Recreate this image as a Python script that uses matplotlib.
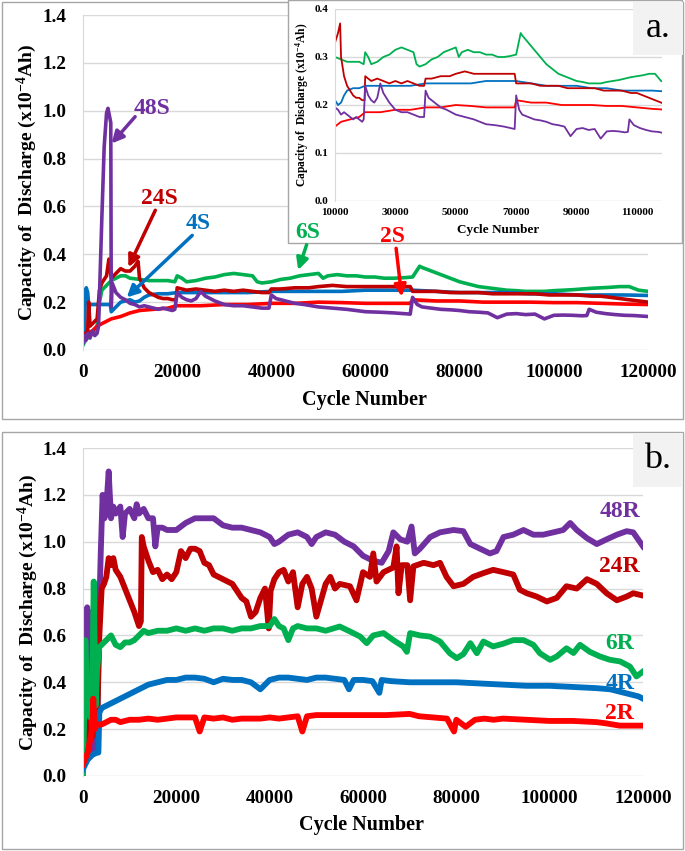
import matplotlib
matplotlib.use('Agg')
import matplotlib.pyplot as plt
from matplotlib.patches import Rectangle

plt.rcParams['font.family'] = ['Liberation Serif', 'DejaVu Serif']
plt.rcParams['font.weight'] = 'bold'
plt.rcParams['mathtext.fontset'] = 'custom'
plt.rcParams['mathtext.rm'] = 'Liberation Serif:bold'
plt.rcParams['mathtext.bf'] = 'Liberation Serif:bold'
plt.rcParams['mathtext.it'] = 'Liberation Serif:bold'

# ---------------- colours ----------------
C48 = '#7030A0'
C24 = '#C00000'
C6 = '#00B050'
C4 = '#0070C0'
C2 = '#FF0000'

# ---------------- panel a data (S series) ----------------
s48_x = [0, 300, 600, 1000, 1500, 2000, 2500, 3000, 3300, 4000, 4500, 5000, 5300, 5600, 5900, 6000, 6200, 6600, 7000, 8000,
         9000, 10000, 11000, 12000, 13000, 14000, 15000, 16000, 17000, 18000, 19000, 19500, 20000, 21000, 22000, 23000, 24000,
         25000, 26000, 28000, 30000, 32000, 34000, 36000, 38000, 39500, 40000, 41000, 43000, 45000, 47000, 50000, 53000, 56000,
         60000, 63000, 66000, 69500, 70000, 71000, 72000, 74000, 76000, 78000, 80000, 82000, 84000, 86000, 88000, 90000, 92000,
         94000, 96000, 98000, 100000, 102000, 104000, 106000, 107000, 107500, 109000, 111000, 113000, 115000, 117000, 120000]
s48_y = [0.03, 0.06, 0.04, 0.07, 0.05, 0.08, 0.06, 0.07, 0.10, 0.55, 0.85, 0.99, 1.01, 0.98, 0.95, 0.18, 0.28, 0.26, 0.24, 0.22,
         0.21, 0.195, 0.19, 0.18, 0.185, 0.18, 0.175, 0.17, 0.175, 0.17, 0.165, 0.17, 0.24, 0.22, 0.21, 0.205, 0.215,
         0.245, 0.225, 0.205, 0.19, 0.185, 0.185, 0.18, 0.175, 0.175, 0.23, 0.215, 0.205, 0.195, 0.19, 0.18, 0.175, 0.17,
         0.16, 0.158, 0.155, 0.15, 0.22, 0.19, 0.18, 0.175, 0.17, 0.168, 0.165, 0.16, 0.158, 0.155, 0.135, 0.15, 0.152,
         0.148, 0.15, 0.13, 0.145, 0.146, 0.145, 0.143, 0.144, 0.17, 0.158, 0.152, 0.148, 0.145, 0.144, 0.14]

s24_x = [0, 500, 1000, 1200, 1500, 2000, 2500, 3000, 3500, 4000, 5000, 5500, 6000, 7000, 8000, 9000, 10000, 11000, 11700, 12000,
         13000, 14000, 15000, 16000, 17000, 18000, 19000, 19800, 20000, 21000, 22000, 24000, 26000, 28000, 30000, 32000, 34000,
         36000, 38000, 39500, 40000, 42000, 45000, 48000, 50000, 53000, 56000, 60000, 63000, 66000, 69500, 70000, 72000, 75000,
         78000, 81000, 84000, 87000, 90000, 93000, 96000, 99000, 102000, 105000, 108000, 110000, 112000, 114000, 116000, 118000,
         120000]
s24_y = [0.05, 0.07, 0.08, 0.20, 0.10, 0.11, 0.12, 0.13, 0.25, 0.28, 0.31, 0.38, 0.30, 0.32, 0.34, 0.33, 0.33, 0.35, 0.37, 0.30,
         0.26, 0.24, 0.23, 0.22, 0.215, 0.215, 0.21, 0.21, 0.26, 0.255, 0.25, 0.255, 0.25, 0.245, 0.25, 0.245, 0.25,
         0.245, 0.24, 0.24, 0.255, 0.255, 0.26, 0.26, 0.265, 0.27, 0.265, 0.265, 0.265, 0.265, 0.265, 0.245, 0.245, 0.245,
         0.24, 0.24, 0.24, 0.235, 0.235, 0.235, 0.235, 0.23, 0.23, 0.23, 0.225, 0.225, 0.22, 0.215, 0.21, 0.205,
         0.20]

s6_x = [0, 500, 1000, 2000, 2500, 3000, 3500, 4000, 5000, 6000, 7000, 8000, 9000, 10000, 12000, 14000, 16000, 18000, 19500, 20000,
        21000, 22000, 24000, 26000, 28000, 30000, 32000, 34000, 36000, 37000, 38000, 40000, 42000, 44000, 46000, 48000, 50000,
        51000, 52000, 54000, 56000, 58000, 60000, 62000, 64000, 66000, 68000, 70000, 71500, 72000, 74000, 76000, 78000, 80000,
        82000, 84000, 86000, 88000, 90000, 92000, 94000, 96000, 98000, 100000, 102000, 104000, 106000, 108000, 110000, 112000,
        114000, 116000, 118000, 120000]
s6_y = [0.02, 0.04, 0.05, 0.07, 0.08, 0.10, 0.20, 0.25, 0.27, 0.29, 0.30, 0.31, 0.31, 0.30, 0.295, 0.29, 0.29, 0.29, 0.285, 0.31,
        0.30, 0.285, 0.29, 0.30, 0.305, 0.315, 0.32, 0.315, 0.31, 0.285, 0.28, 0.285, 0.295, 0.30, 0.31, 0.315, 0.32,
        0.30, 0.31, 0.315, 0.31, 0.31, 0.305, 0.305, 0.30, 0.30, 0.302, 0.305, 0.35, 0.345, 0.33, 0.315, 0.30, 0.285,
        0.275, 0.265, 0.26, 0.255, 0.25, 0.248, 0.245, 0.245, 0.245, 0.248, 0.25, 0.252, 0.255, 0.258, 0.26, 0.262,
        0.265, 0.265, 0.25, 0.245]

s4_x = [0, 300, 500, 700, 1000, 1200, 2000, 3000, 4000, 5000, 5800, 6000, 7000, 8000, 10000, 11000, 12000, 13000, 14000, 16000,
        18000, 20000, 25000, 30000, 35000, 40000, 45000, 50000, 55000, 60000, 65000, 70000, 75000, 80000, 85000, 90000, 95000,
        100000, 105000, 110000, 115000, 120000]
s4_y = [0.03, 0.05, 0.25, 0.26, 0.24, 0.19, 0.19, 0.19, 0.19, 0.19, 0.19, 0.16, 0.18, 0.20, 0.21, 0.20, 0.205, 0.22, 0.23, 0.235,
        0.235, 0.24, 0.24, 0.24, 0.24, 0.245, 0.245, 0.245, 0.245, 0.25, 0.25, 0.25, 0.245, 0.24, 0.24, 0.24, 0.235,
        0.235, 0.23, 0.23, 0.23, 0.228]

s2_x = [0, 1000, 2000, 3000, 4000, 5000, 6000, 8000, 10000, 12000, 15000, 18000, 20000, 25000, 30000, 35000, 40000, 45000, 50000,
        55000, 60000, 65000, 69500, 70000, 72000, 75000, 80000, 85000, 90000, 95000, 100000, 105000, 110000, 115000, 120000]
s2_y = [0.04, 0.07, 0.08, 0.10, 0.11, 0.12, 0.13, 0.14, 0.155, 0.165, 0.17, 0.175, 0.185, 0.185, 0.19, 0.19, 0.195, 0.195, 0.20,
        0.198, 0.195, 0.195, 0.195, 0.21, 0.208, 0.205, 0.205, 0.20, 0.20, 0.20, 0.198, 0.198, 0.195, 0.192, 0.19]

# ---------------- panel b data (R series) ----------------
r48_x = [0, 300, 600, 900, 1100, 1400, 1800, 2200, 2600, 3000, 3400, 3800, 4200, 4600, 5000, 5500, 6000, 6500, 7000, 8000,
         8500, 9000, 10000, 11000, 11500, 12000, 13000, 14000, 15000, 15500, 16000, 17000, 18000, 20000, 22000, 24000, 26000,
         28000, 30000, 32000, 34000, 36000, 38000, 40000, 41000, 42000, 44000, 46000, 48000, 49000, 50000, 52000, 54000, 56000,
         58000, 60000, 62000, 64000, 65500, 66500, 68000, 69500, 70400, 71100, 72200, 74400, 76500, 79400, 81500, 83000, 85100,
         87200, 88600, 90100, 92200, 94400, 96500, 98600, 100800, 102900, 104400, 105800, 108000, 110100, 112200, 114400,
         116500, 117900, 120000]
r48_y = [0.05, 0.08, 0.30, 0.72, 0.10, 0.70, 0.15, 0.10, 0.15, 0.12, 0.65, 0.95, 1.20, 1.10, 1.15, 1.30, 1.10, 1.15, 1.12, 1.15,
         1.02, 1.12, 1.14, 1.10, 1.16, 1.12, 1.14, 1.10, 1.10, 0.98, 1.06, 1.06, 1.05, 1.05, 1.08, 1.10, 1.10,
         1.10, 1.07, 1.06, 1.06, 1.05, 1.04, 1.02, 0.99, 1.00, 1.03, 1.04, 1.02, 0.99, 1.02, 1.04, 1.03, 1.00,
         0.98, 0.94, 0.92, 0.91, 0.96, 1.04, 1.01, 1.00, 1.065, 0.95, 0.97, 1.02, 1.04, 1.05, 1.045, 0.99, 0.97,
         0.95, 0.96, 1.02, 1.03, 1.05, 1.03, 1.03, 1.04, 1.05, 1.08, 1.05, 1.015, 0.99, 1.01, 1.03,
         1.045, 1.04, 0.98]

r24_x = [0, 300, 500, 800, 1200, 1600, 2000, 2500, 3000, 3500, 4000, 4500, 5000, 5500, 6000, 6500, 7000, 8000, 9000, 10000,
         11000, 12000, 12400, 12600, 13000, 14000, 15000, 16000, 17000, 18000, 19000, 20000, 21000, 22000, 23000, 24000, 25000,
         26000, 27000, 28000, 30000, 32000, 34000, 35000, 36000, 37000, 38000, 39000, 39800, 40200, 41000, 42000, 43000, 44000,
         45000, 46000, 47000, 48000, 49000, 50000, 51000, 52000, 53000, 54000, 55000, 57200, 58600, 60000, 61500, 62200, 62900,
         64400, 66500, 67200, 67600, 68300, 69500, 70100, 70800, 73000, 75100, 76500, 77900, 79400, 81500, 83600, 85800, 87900,
         90100, 92200, 93600, 95100, 97200, 99400, 101500, 103600, 105800, 108000, 110100, 112200, 114400, 116500, 117900,
         120000]
r24_y = [0.05, 0.10, 0.37, 0.15, 0.12, 0.20, 0.17, 0.34, 0.20, 0.60, 0.80, 0.82, 0.85, 0.93, 0.90, 0.93, 0.88, 0.85, 0.80, 0.75,
         0.70, 0.64, 0.66, 1.02, 0.98, 0.92, 0.87, 0.88, 0.84, 0.86, 0.84, 0.87, 0.96, 0.93, 0.97, 0.97, 0.96,
         0.91, 0.90, 0.86, 0.84, 0.82, 0.76, 0.745, 0.68, 0.70, 0.76, 0.80, 0.63, 0.79, 0.84, 0.87, 0.88, 0.83,
         0.87, 0.72, 0.82, 0.85, 0.80, 0.68, 0.75, 0.82, 0.85, 0.80, 0.82, 0.81, 0.75, 0.87, 0.85, 0.95, 0.83,
         0.87, 0.89, 0.98, 0.78, 0.90, 0.90, 0.75, 0.895, 0.91, 0.90, 0.91, 0.85, 0.81, 0.82, 0.85, 0.866, 0.88,
         0.87, 0.86, 0.795, 0.78, 0.766, 0.745, 0.76, 0.81, 0.80, 0.84, 0.82, 0.78, 0.75, 0.766, 0.78,
         0.77]

r6_x = [0, 300, 500, 800, 1200, 1600, 2000, 2300, 2700, 3000, 3500, 4000, 5000, 6000, 7000, 8000, 9000, 10000, 11000, 12000,
        13000, 14000, 16000, 18000, 20000, 22000, 24000, 26000, 28000, 30000, 32000, 34000, 36000, 38000, 40000, 41000, 42000,
        43000, 44000, 45000, 46000, 48000, 50000, 52000, 55000, 57200, 59400, 60800, 62200, 64400, 66500, 68600, 69400, 70100,
        72200, 74400, 76500, 78600, 80100, 81500, 83000, 84400, 85800, 87900, 90100, 92200, 94400, 96500, 97900, 100100,
        101500, 103600, 105100, 106500, 108600, 110800, 112900, 115100, 117200, 118600, 120000]
r6_y = [0.0, 0.30, 0.58, 0.40, 0.30, 0.25, 0.40, 0.83, 0.30, 0.45, 0.55, 0.56, 0.58, 0.60, 0.56, 0.55, 0.57, 0.57, 0.58, 0.60,
        0.62, 0.61, 0.62, 0.62, 0.63, 0.62, 0.63, 0.62, 0.63, 0.63, 0.62, 0.63, 0.63, 0.64, 0.64, 0.67, 0.64,
        0.63, 0.58, 0.63, 0.64, 0.63, 0.63, 0.62, 0.638, 0.617, 0.595, 0.567, 0.60, 0.61, 0.58, 0.553, 0.53, 0.61,
        0.60, 0.595, 0.574, 0.524, 0.503, 0.52, 0.567, 0.524, 0.574, 0.553, 0.565, 0.58, 0.58, 0.56, 0.524, 0.496,
        0.51, 0.545, 0.525, 0.56, 0.53, 0.51, 0.496, 0.489, 0.467, 0.425, 0.446]

r4_x = [0, 1000, 2000, 3000, 3300, 3500, 4000, 5000, 6000, 7000, 8000, 9000, 10000, 11000, 12000, 13000, 14000, 15000, 16000,
        18000, 20000, 22000, 24000, 26000, 28000, 30000, 32000, 34000, 36000, 38000, 40000, 42000, 44000, 46000, 48000, 50000,
        52000, 54000, 56000, 57000, 58000, 60000, 62000, 63500, 64000, 66000, 70000, 75000, 80000, 85000, 90000, 95000,
        100000, 105000, 110000, 113000, 115000, 117000, 119000, 120000]
r4_y = [0.03, 0.07, 0.09, 0.10, 0.10, 0.27, 0.29, 0.30, 0.31, 0.32, 0.33, 0.34, 0.35, 0.36, 0.37, 0.38, 0.39, 0.395, 0.40,
        0.41, 0.41, 0.42, 0.42, 0.415, 0.40, 0.415, 0.41, 0.41, 0.40, 0.37, 0.41, 0.42, 0.42, 0.415, 0.41, 0.42,
        0.42, 0.415, 0.41, 0.37, 0.41, 0.41, 0.405, 0.355, 0.41, 0.405, 0.40, 0.40, 0.40, 0.395, 0.39, 0.385,
        0.385, 0.38, 0.375, 0.37, 0.36, 0.35, 0.34, 0.33]

r2_x = [0, 1000, 2000, 2200, 2500, 3000, 4000, 5000, 6000, 7000, 8000, 10000, 12000, 14000, 16000, 18000, 20000, 22000, 24000,
        25000, 26000, 28000, 30000, 32000, 34000, 36000, 38000, 40000, 42000, 44000, 46000, 47000, 48000, 50000, 52000, 55000,
        60000, 65000, 70000, 72000, 75000, 78000, 79500, 80000, 82000, 84000, 86000, 88000, 90000, 95000, 100000, 105000,
        110000, 112000, 115000, 120000]
r2_y = [0.05, 0.10, 0.20, 0.33, 0.20, 0.22, 0.22, 0.23, 0.24, 0.24, 0.23, 0.24, 0.24, 0.245, 0.24, 0.245, 0.25, 0.25, 0.25,
        0.19, 0.25, 0.245, 0.25, 0.24, 0.245, 0.245, 0.245, 0.25, 0.245, 0.25, 0.255, 0.19, 0.255, 0.26, 0.26, 0.26,
        0.26, 0.26, 0.265, 0.255, 0.25, 0.245, 0.19, 0.24, 0.21, 0.24, 0.245, 0.24, 0.245, 0.24, 0.235, 0.235,
        0.23, 0.225, 0.215, 0.215]

# ticks / labels
main_xticks = [0, 20000, 40000, 60000, 80000, 100000, 120000]
main_yticks = [0.0, 0.2, 0.4, 0.6, 0.8, 1.0, 1.2, 1.4]
inset_xticks = [10000, 30000, 50000, 70000, 90000, 110000]
inset_yticks = [0.0, 0.1, 0.2, 0.3, 0.4]
ylabel_text = 'Capacity of  Discharge (x10$^{-4}$Ah)'
xlabel_text = 'Cycle Number'

W, H = 685, 851
fig = plt.figure(figsize=(W / 100, H / 100), dpi=100)
fig.patch.set_facecolor('white')


def rect_px(x0, y0, x1, y1):
    return (x0 / W, 1 - y1 / H), (x1 - x0) / W, (y1 - y0) / H


def add_axes_px(x0, y0, x1, y1, **kw):
    return fig.add_axes([x0 / W, 1 - y1 / H, (x1 - x0) / W, (y1 - y0) / H], **kw)


GRID = '#D9D9D9'


def style(ax, fs, ypad, xpad):
    for s in ['top', 'right', 'bottom']:
        ax.spines[s].set_visible(False)
    ax.spines['left'].set_color(GRID)
    ax.yaxis.grid(True, color=GRID, lw=1)
    ax.xaxis.grid(False)
    ax.set_axisbelow(True)
    ax.tick_params(length=0, labelsize=fs)
    ax.tick_params(axis='y', pad=ypad)
    ax.tick_params(axis='x', pad=xpad)
    for lab in ax.get_xticklabels() + ax.get_yticklabels():
        lab.set_fontweight('bold')


def set_labels(ax, fs_y, fs_x, ycoord, xcoord):
    ax.set_ylabel(ylabel_text, fontsize=fs_y, fontweight='bold')
    ax.yaxis.label.set_va('center')
    ax.yaxis.set_label_coords(*ycoord)
    ax.set_xlabel(xlabel_text, fontsize=fs_x, fontweight='bold')
    ax.xaxis.label.set_va('center')
    ax.xaxis.set_label_coords(*xcoord)


# panel borders
for (x0, y0, x1, y1) in [(2, 2, 683, 419), (2, 432, 683, 849)]:
    xy, w, h = rect_px(x0, y0, x1, y1)
    fig.add_artist(Rectangle(xy, w, h, transform=fig.transFigure, fill=False, edgecolor='#A6A6A6', lw=1, zorder=0))

# ---------------- panel a ----------------
axa = add_axes_px(83, 15, 648, 350)
lw_a = 2.6
axa.plot(s6_x, s6_y, color=C6, lw=lw_a)
axa.plot(s2_x, s2_y, color=C2, lw=lw_a)
axa.plot(s4_x, s4_y, color=C4, lw=lw_a)
axa.plot(s24_x, s24_y, color=C24, lw=lw_a)
axa.plot(s48_x, s48_y, color=C48, lw=lw_a)
axa.set_xlim(0, 120000)
axa.set_ylim(0, 1.4)
axa.set_xticks(main_xticks)
axa.set_xticklabels([str(v) for v in main_xticks])
axa.set_yticks(main_yticks)
axa.set_yticklabels([f'{v:.1f}' for v in main_yticks])
style(axa, 13.8, 12, 10)
set_labels(axa, 14, 14.5, (-0.099, 0.5), (0.499, -0.149))

# inset box + inset axes
xy, w, h = rect_px(288, 0, 682, 243)
fig.add_artist(Rectangle(xy, w, h, transform=fig.transFigure, facecolor='white', edgecolor='#A6A6A6', lw=1, zorder=1))
axi = add_axes_px(335, 9, 662, 201, zorder=2)
axi.patch.set_alpha(0)
lw_i = 1.3
axi.plot(s6_x, s6_y, color=C6, lw=lw_i)
axi.plot(s4_x, s4_y, color=C4, lw=lw_i)
axi.plot(s24_x, s24_y, color=C24, lw=lw_i)
axi.plot(s2_x, s2_y, color=C2, lw=lw_i)
axi.plot(s48_x, s48_y, color=C48, lw=lw_i)
axi.set_xlim(10000, 118300)
axi.set_ylim(0, 0.4)
axi.set_xticks(inset_xticks)
axi.set_xticklabels([str(v) for v in inset_xticks])
axi.set_yticks(inset_yticks)
axi.set_yticklabels([f'{v:.1f}' for v in inset_yticks])
style(axi, 8, 5, 5)
set_labels(axi, 8.3, 9.5, (-0.101, 0.5), (0.5, -0.151))

# overlay for series labels + arrows (above the inset box)
ova = add_axes_px(83, 15, 648, 350, zorder=3)
ova.set_xlim(0, 120000)
ova.set_ylim(0, 1.4)
ova.axis('off')
arrow_kw = dict(arrowstyle='-|>,head_length=0.7,head_width=0.35', lw=2.5, shrinkA=0, shrinkB=0)
labels_a = [('48S', C48, (14600, 1.01), (11070, 0.975), (6070, 0.863)),
            ('24S', C24, (16300, 0.633), (15360, 0.584), (9640, 0.346)),
            ('4S', C4, (24500, 0.528), (23200, 0.479), (9290, 0.22)),
            ('6S', C6, (47800, 0.489), (47500, 0.44), (45700, 0.334)),
            ('2S', C2, (65800, 0.473), (66500, 0.425), (67700, 0.223))]
for txt, c, tp, a0, a1 in labels_a:
    ova.text(tp[0], tp[1], txt, color=c, fontsize=17, fontweight='bold', ha='center', va='center')
    ova.annotate('', xy=a1, xytext=a0, arrowprops=dict(color=c, **arrow_kw), annotation_clip=False)

# panel letters
for (x0, y0, x1, y1), letter in [((633, 2, 683, 55), 'a.'), ((633, 433, 683, 487), 'b.')]:
    xy, w, h = rect_px(x0, y0, x1, y1)
    fig.add_artist(Rectangle(xy, w, h, transform=fig.transFigure, facecolor='#F2F2F2', edgecolor='none', zorder=4))
    fig.text((x0 + x1) / 2 / W, 1 - (y0 + y1) / 2 / H, letter, fontsize=26, fontweight='normal',
             ha='center', va='center', zorder=5)

# ---------------- panel b ----------------
axb = add_axes_px(83, 448, 643, 776)
lw_b = 4.2
axb.plot(r48_x, r48_y, color=C48, lw=lw_b)
axb.plot(r24_x, r24_y, color=C24, lw=lw_b)
axb.plot(r6_x, r6_y, color=C6, lw=lw_b)
axb.plot(r4_x, r4_y, color=C4, lw=lw_b)
axb.plot(r2_x, r2_y, color=C2, lw=lw_b)
axb.set_xlim(0, 120000)
axb.set_ylim(0, 1.4)
axb.set_xticks(main_xticks)
axb.set_xticklabels([str(v) for v in main_xticks])
axb.set_yticks(main_yticks)
axb.set_yticklabels([f'{v:.1f}' for v in main_yticks])
style(axb, 13.8, 12, 10)
set_labels(axb, 14, 14.5, (-0.098, 0.5), (0.498, -0.149))

labels_b = [('48R', C48, 1.128), ('24R', C24, 0.893), ('6R', C6, 0.566), ('4R', C4, 0.396), ('2R', C2, 0.268)]
for txt, c, yv in labels_b:
    axb.text(115000, yv, txt, color=c, fontsize=17, fontweight='bold', ha='center', va='center')

for xs, ys in [(s48_x, s48_y), (s24_x, s24_y), (s6_x, s6_y), (s4_x, s4_y), (s2_x, s2_y),
               (r48_x, r48_y), (r24_x, r24_y), (r6_x, r6_y), (r4_x, r4_y), (r2_x, r2_y)]:
    assert len(xs) == len(ys), (len(xs), len(ys))

fig.savefig('out.png', dpi=100, facecolor='white')
